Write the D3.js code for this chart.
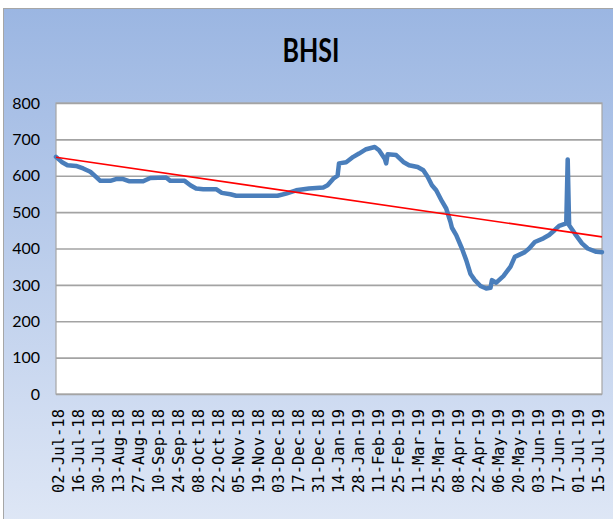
<!DOCTYPE html>
<html>
<head>
<meta charset="utf-8">
<script src="https://cdn.jsdelivr.net/npm/d3@7"></script>
<style>
  body { margin: 0; background: #fff; }
</style>
</head>
<body>
<div id="chart"></div>
<script>
// chart data
const dates = [
  "2018-07-02","2018-07-06","2018-07-10","2018-07-16","2018-07-21","2018-07-26","2018-07-30",
  "2018-08-02","2018-08-09","2018-08-13","2018-08-18","2018-08-22","2018-09-01","2018-09-06",
  "2018-09-17","2018-09-20","2018-09-30","2018-10-04","2018-10-08","2018-10-13","2018-10-22",
  "2018-10-26","2018-11-01","2018-11-05","2018-12-04","2018-12-10","2018-12-17","2018-12-26",
  "2019-01-05","2019-01-08","2019-01-12","2019-01-15","2019-01-16","2019-01-21","2019-01-26",
  "2019-01-30","2019-02-04","2019-02-10","2019-02-13","2019-02-17","2019-02-18","2019-02-19",
  "2019-02-25","2019-03-02","2019-03-06","2019-03-12","2019-03-16","2019-03-19","2019-03-22",
  "2019-03-25","2019-03-29","2019-04-01","2019-04-04","2019-04-05","2019-04-08","2019-04-12",
  "2019-04-15","2019-04-18","2019-04-21","2019-04-25","2019-04-29","2019-05-02","2019-05-03",
  "2019-05-06","2019-05-11","2019-05-16","2019-05-19","2019-05-26","2019-05-29","2019-06-02",
  "2019-06-08","2019-06-12","2019-06-16","2019-06-19","2019-06-24","2019-06-25","2019-06-26",
  "2019-06-30","2019-07-05","2019-07-09","2019-07-15","2019-07-19"
];
const bhsi = [
  652,638,629,627,620,611,597,
  586,586,591,591,585,585,594,
  595,586,586,574,565,563,563,
  553,549,545,545,551,560,565,
  568,574,592,600,634,637,652,
  661,673,679,670,647,634,659,
  657,638,629,624,615,597,574,
  560,530,510,473,457,437,400,
  368,330,313,297,290,292,313,
  306,324,350,377,390,400,418,
  428,437,451,462,469,645,464,
  441,414,400,391,390
];
// linear trend line, start and end values
const trendDates = ["2018-07-02","2019-07-19"];
const trendValues = [651, 432];

const yTicks = [0,100,200,300,400,500,600,700,800];
const xTickLabels = [
  "02-Jul-18","16-Jul-18","30-Jul-18","13-Aug-18","27-Aug-18","10-Sep-18","24-Sep-18",
  "08-Oct-18","22-Oct-18","05-Nov-18","19-Nov-18","03-Dec-18","17-Dec-18","31-Dec-18",
  "14-Jan-19","28-Jan-19","11-Feb-19","25-Feb-19","11-Mar-19","25-Mar-19","08-Apr-19",
  "22-Apr-19","06-May-19","20-May-19","03-Jun-19","17-Jun-19","01-Jul-19","15-Jul-19"
];

const W = 613, H = 519;
const plot = {left: 56, right: 602, top: 103, bottom: 394};

const parse = d3.timeParse("%Y-%m-%d");
const tickParse = d3.timeParse("%d-%b-%y");
const fmt = d3.timeFormat("%d-%b-%y");

const series = dates.map((d, i) => ({date: parse(d), value: bhsi[i]}));
const trend = trendDates.map((d, i) => ({date: parse(d), value: trendValues[i]}));

const x = d3.scaleTime()
  .domain([parse("2018-07-02"), parse("2019-07-19")])
  .range([plot.left, plot.right]);
const y = d3.scaleLinear()
  .domain([0, 800])
  .range([plot.bottom, plot.top]);

const svg = d3.select("#chart")
  .append("svg")
  .attr("width", W)
  .attr("height", H);

// background gradient of the chart area
const grad = svg.append("defs").append("linearGradient")
  .attr("id", "bg")
  .attr("x1", 0).attr("y1", 0).attr("x2", 0).attr("y2", 1);
grad.append("stop").attr("offset", "0%").attr("stop-color", "#9bb6e2");
grad.append("stop").attr("offset", "100%").attr("stop-color", "#e0e8f6");

svg.append("rect")
  .attr("x", 3.5).attr("y", 8.5)
  .attr("width", W + 10).attr("height", H + 10)
  .attr("fill", "url(#bg)")
  .attr("stroke", "#a6a6a6")
  .attr("stroke-width", 1);

// title
svg.append("text")
  .attr("x", 311)
  .attr("y", 62)
  .attr("text-anchor", "middle")
  .attr("font-family", "Lato, 'Open Sans', sans-serif")
  .attr("font-weight", "bold")
  .attr("font-size", 32)
  .attr("textLength", 57)
  .attr("lengthAdjust", "spacingAndGlyphs")
  .attr("fill", "#000")
  .text("BHSI");

// plot area
svg.append("rect")
  .attr("x", plot.left).attr("y", plot.top)
  .attr("width", plot.right - plot.left)
  .attr("height", plot.bottom - plot.top)
  .attr("fill", "#fff");

// gridlines + y labels
const yAxis = svg.append("g")
  .attr("transform", `translate(${plot.left},0)`)
  .call(d3.axisLeft(y)
    .tickValues(yTicks)
    .tickSize(-(plot.right - plot.left))
    .tickPadding(16));
yAxis.select(".domain").remove();
yAxis.selectAll(".tick line")
  .attr("stroke", "#a3a3a3")
  .attr("stroke-width", 1.6);
yAxis.selectAll(".tick text")
  .attr("font-family", "Lato, 'Open Sans', sans-serif")
  .attr("font-size", 16)
  .attr("fill", "#000");

// plot border
svg.append("rect")
  .attr("x", plot.left).attr("y", plot.top)
  .attr("width", plot.right - plot.left)
  .attr("height", plot.bottom - plot.top)
  .attr("fill", "none")
  .attr("stroke", "#a6a6a6")
  .attr("stroke-width", 1.2);

// x axis labels, every 14 days, rotated
const xAxis = svg.append("g")
  .attr("transform", `translate(0,${plot.bottom})`)
  .call(d3.axisBottom(x)
    .tickValues(xTickLabels.map(tickParse))
    .tickFormat(fmt)
    .tickSize(0));
xAxis.select(".domain").remove();
xAxis.selectAll(".tick text")
  .attr("font-family", "'DejaVu Sans Mono', monospace")
  .attr("font-size", 15.5)
  .attr("fill", "#000")
  .attr("text-anchor", "end")
  .attr("transform", "rotate(-90)")
  .attr("x", -15)
  .attr("y", 2)
  .attr("dy", "0.35em");

// BHSI line
svg.append("path")
  .datum(series)
  .attr("fill", "none")
  .attr("stroke", "#4a7ebb")
  .attr("stroke-width", 4.5)
  .attr("stroke-linejoin", "round")
  .attr("stroke-linecap", "round")
  .attr("d", d3.line()
    .x(d => x(d.date))
    .y(d => y(d.value)));

// trend line
svg.append("path")
  .datum(trend)
  .attr("fill", "none")
  .attr("stroke", "#ff0000")
  .attr("stroke-width", 1.6)
  .attr("d", d3.line()
    .x(d => x(d.date))
    .y(d => y(d.value)));
</script>
</body>
</html>
